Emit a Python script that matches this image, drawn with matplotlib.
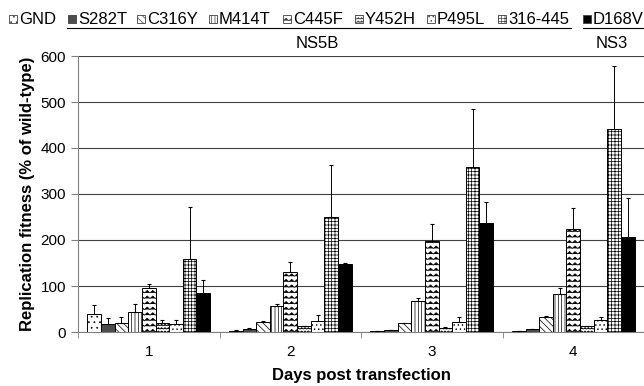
import warnings
import matplotlib
matplotlib.use("Agg")
from matplotlib import pyplot as plt
from matplotlib import hatch as mhatch
from matplotlib.patches import Rectangle
from matplotlib.path import Path
import numpy as np

warnings.filterwarnings("ignore")

# values (% of wild-type), days 1-4
days = ["1", "2", "3", "4"]
mutants = ["GND", "S282T", "C316Y", "M414T", "C445F", "Y452H", "P495L", "316-445", "D168V"]

gnd = [39, 3, 2, 2]
s282t = [17, 6, 4, 6]
c316y = [20, 21, 19, 33]
m414t = [44, 57, 67, 82]
c445f = [96, 130, 198, 225]
y452h = [20, 12, 9, 12]
p495l = [17, 25, 21, 26]
d316_445 = [159, 249, 358, 442]
d168v = [85, 148, 237, 206]

# upper ends of the error bars
gnd_top = [59, 5, 3, 3]
s282t_top = [30, 9, 5, 7]
c316y_top = [33, 23, 20, 34]
m414t_top = [60, 60, 75, 95]
c445f_top = [104, 153, 234, 270]
y452h_top = [26, 13, 10, 13]
p495l_top = [26, 38, 32, 33]
d316_445_top = [272, 363, 485, 579]
d168v_top = [112, 150, 283, 292]

values = [gnd, s282t, c316y, m414t, c445f, y452h, p495l, d316_445, d168v]
tops = [gnd_top, s282t_top, c316y_top, m414t_top, c445f_top, y452h_top,
        p495l_top, d316_445_top, d168v_top]


# wavy hatch ('~'), matplotlib has none built in
class WavyHatch(mhatch.HatchPatternBase):
    def __init__(self, hatch, density):
        self.num_lines = int(hatch.count("~") * density)
        self.periods = self.num_lines
        self.num_vertices = self.num_lines * (2 * self.periods + 1)

    def set_vertices_and_codes(self, vertices, codes):
        steps, stepsize = np.linspace(0.0, 1.0, self.num_lines, False, retstep=True)
        steps += stepsize / 2.
        n = 2 * self.periods + 1
        xs = np.linspace(0.0, 1.0, n)
        wiggle = np.where(np.arange(n) % 2 == 0, -1.0, 1.0) * stepsize * 0.22
        for k, s in enumerate(steps):
            vertices[k * n:(k + 1) * n, 0] = xs
            vertices[k * n:(k + 1) * n, 1] = s + wiggle
            codes[k * n] = Path.MOVETO
            codes[k * n + 1:(k + 1) * n] = Path.LINETO


mhatch._hatch_types.append(WavyHatch)

colors = ["white", "#4d4d4d", "white", "white", "white", "white", "white", "white", "black"]
hatches = ["...", "", "\\\\\\\\\\", "|||||", "~~~", "~~~~~", "....", "+++++", ""]

plt.rcParams["font.family"] = ["Liberation Sans", "DejaVu Sans"]
plt.rcParams["hatch.linewidth"] = 0.5

fig = plt.figure(figsize=(6.44, 3.86), dpi=100)
ax = fig.add_axes([78 / 644, 1 - 332 / 386, 566 / 644, 276 / 386])

x = np.arange(len(days))
w = 0.0963
for i in range(len(mutants)):
    pos = x - 4 * w + i * w
    v = np.array(values[i])
    err = np.array(tops[i]) - v
    ax.bar(pos, v, w, color=colors[i], edgecolor="black", linewidth=0.7,
           hatch=hatches[i], zorder=3)
    ax.errorbar(pos, v, yerr=[np.zeros_like(err), err], fmt="none",
                ecolor="black", elinewidth=0.7, capsize=1.5, capthick=0.8, zorder=4)

ax.set_xlim(-0.5, 3.5)
ax.set_ylim(0, 600)
ax.set_yticks(range(0, 601, 100))
ax.yaxis.grid(True, color="#404040", linewidth=0.8, zorder=0)
ax.set_xticks(x)
ax.set_xticklabels(days)
ax.set_xticks(np.arange(-0.5, 3.6, 1.0), minor=True)
ax.tick_params(axis="x", which="major", length=0, labelsize=11, pad=9)
ax.tick_params(axis="x", which="minor", length=4, color="#808080")
ax.tick_params(axis="y", length=5, color="#808080", labelsize=11)
for s in ["top", "right"]:
    ax.spines[s].set_visible(False)
for s in ["left", "bottom"]:
    ax.spines[s].set_color("#808080")

ax.set_ylabel("Replication fitness (% of wild-type)", fontsize=12, fontweight="bold")
ax.set_xlabel("Days post transfection", fontsize=12, fontweight="bold", labelpad=7)

# legend strip across the top
box_x = [9, 68, 137, 209, 283, 355, 427, 498, 583]
for i in range(len(mutants)):
    fig.add_artist(Rectangle((box_x[i] / 644, 1 - 23 / 386), 8 / 644, 8 / 386,
                             transform=fig.transFigure, facecolor=colors[i],
                             edgecolor="#404040", linewidth=0.6, hatch=hatches[i]))
    fig.text((box_x[i] + 10) / 644, 1 - 19 / 386, mutants[i], fontsize=12,
             va="center", ha="left")

fig.add_artist(plt.Line2D([67 / 644, 571 / 644], [1 - 28 / 386] * 2,
                          transform=fig.transFigure, color="black", linewidth=0.8))
fig.add_artist(plt.Line2D([583 / 644, 643 / 644], [1 - 28 / 386] * 2,
                          transform=fig.transFigure, color="black", linewidth=0.8))
fig.text(317 / 644, 1 - 44 / 386, "NS5B", fontsize=12, ha="center", va="center")
fig.text(612 / 644, 1 - 44 / 386, "NS3", fontsize=12, ha="center", va="center")

fig.savefig("out.png", dpi=100)
